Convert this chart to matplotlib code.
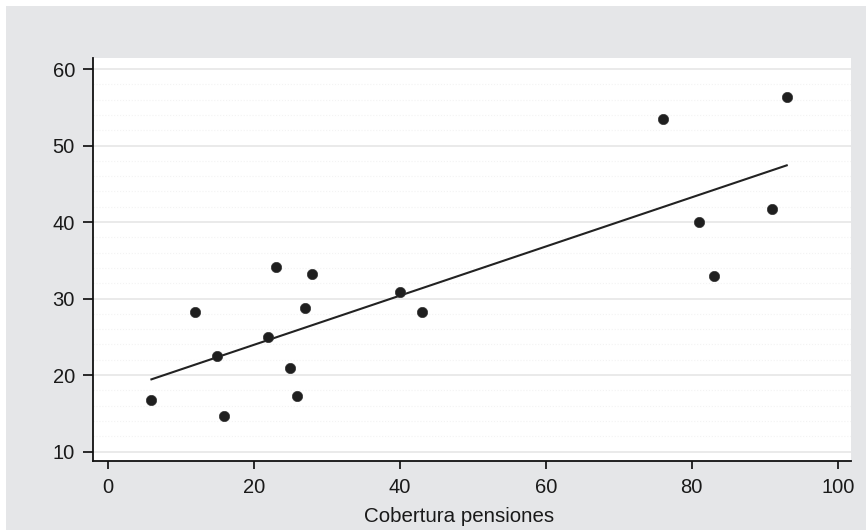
import matplotlib
matplotlib.use("Agg")
import matplotlib.pyplot as plt
from matplotlib.patches import Rectangle
from matplotlib.ticker import MultipleLocator
import numpy as np

plt.rcParams['font.family'] = ['Liberation Sans', 'DejaVu Sans']

# Cobertura pensiones vs. y
cobertura = [6, 12, 15, 16, 22, 23, 25, 26, 27, 28, 40, 43, 76, 81, 83, 91, 93]
valores = [16.7, 28.2, 22.5, 14.7, 25.0, 34.1, 20.9, 17.2, 28.7, 33.2,
           30.9, 28.2, 53.5, 40.0, 33.0, 41.7, 56.4]
xticks = [0, 20, 40, 60, 80, 100]
yticks = [10, 20, 30, 40, 50, 60]

x = np.array(cobertura)
y = np.array(valores)
b, a = np.polyfit(x, y, 1)
xl = np.array([x.min(), x.max()])

fig = plt.figure(figsize=(8.66, 5.30), dpi=100)
fig.patch.set_facecolor('white')
bg = Rectangle((6 / 866, 0), 1, 524 / 530, transform=fig.transFigure,
               facecolor='#e5e6e8', edgecolor='none', zorder=-10)
fig.add_artist(bg)

ax = fig.add_axes([93 / 866, 1 - 461 / 530, (851 - 93) / 866, (461 - 58) / 530])
ax.set_zorder(1)
ax.set_facecolor('white')

ax.yaxis.set_minor_locator(MultipleLocator(2))
ax.grid(which='major', axis='y', color='#e8e8e8', linewidth=1.3, zorder=0)
ax.grid(which='minor', axis='y', color='#f3f3f3', linewidth=0.8, linestyle=':', zorder=0)

ax.plot(xl, a + b * xl, color='#222222', linewidth=1.5, zorder=2)
ax.scatter(x, y, s=55, color='#1f1f1f', edgecolors='#333333', linewidths=0.5, zorder=3)

ax.set_xlim(-2.0, 101.8)
ax.set_ylim(8.76, 61.44)
ax.set_xticks(xticks)
ax.set_yticks(yticks)

for s in ['top', 'right']:
    ax.spines[s].set_visible(False)
for s in ['left', 'bottom']:
    ax.spines[s].set_color('#111111')
    ax.spines[s].set_linewidth(1.3)

ax.tick_params(axis='y', which='major', length=7, width=1.3, pad=6, labelsize=14.5, colors='#1a1a1a')
ax.tick_params(axis='x', which='major', length=6, width=1.3, pad=6, labelsize=14.5, colors='#1a1a1a')
ax.tick_params(which='minor', length=0)

ax.set_xlabel('Cobertura pensiones', fontsize=14.8, color='#1a1a1a')
ax.xaxis.set_label_coords(0.483, -0.115)

fig.savefig('out.png', dpi=100)
